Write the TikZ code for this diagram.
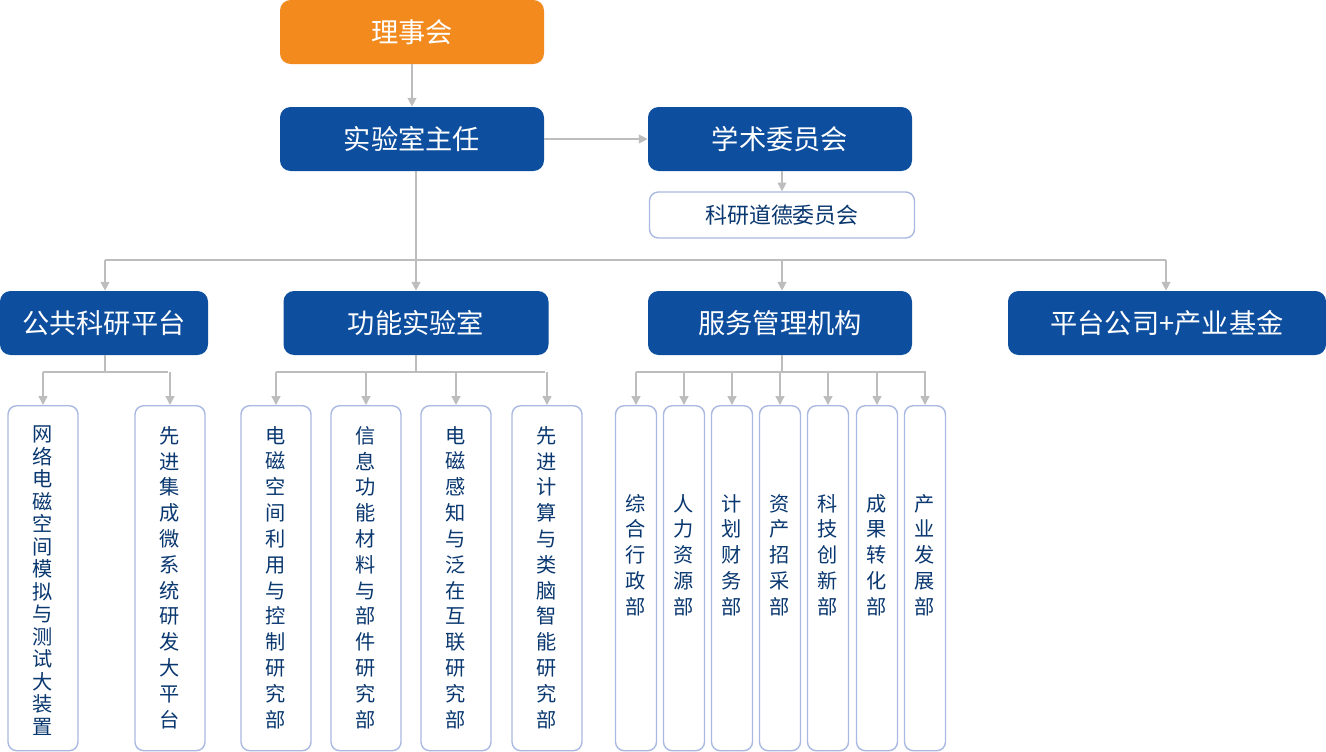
\documentclass[tikz,border=0pt]{standalone}
\usepackage{fontspec}
\setmainfont{Noto Sans CJK SC}
\usetikzlibrary{arrows.meta, positioning}
\definecolor{orgorange}{HTML}{F28A1E}
\definecolor{orgblue}{HTML}{0D4E9E}
\definecolor{orgedge}{HTML}{A9B9E2}
\definecolor{orgline}{HTML}{BDBDBD}
\tikzset{
    head/.style = {rounded corners = 6pt, minimum width = 264*0.02cm, minimum height = 64*0.02cm, text = white, font = \fontsize{15.5}{18}\selectfont},
    sub/.style = {draw = orgedge, thick, rounded corners = 5pt, minimum width = 265*0.02cm, minimum height = 46*0.02cm, fill = white, text = orgblue!70!black, font = \fontsize{12.5}{15}\selectfont},
    unit/.style = {draw = orgedge, thick, rounded corners = 5pt, minimum height = 345*0.02cm, fill = white, anchor = north, text = orgblue!70!black},
    vtext/.style = {align = center, font = \fontsize{11.5}{14.7}\selectfont, text = orgblue!70!black},
    link/.style = {draw = orgline, thick, -{Triangle[length = 5pt, width = 5pt]}},
    plain/.style = {draw = orgline, thick},
}

\begin{document}
\begin{tikzpicture}[x = 0.02cm, y = -0.02cm]
    \useasboundingbox (0, 0) rectangle (1326, 751);

    % top levels
    \node[head, fill = orgorange] (council) at (412, 32) {理事会};
    \node[head, fill = orgblue] (director) at (412, 139) {实验室主任};
    \node[head, fill = orgblue] (academic) at (780, 139) {学术委员会};
    \node[sub] (ethics) at (782, 215) {科研道德委员会};

    \draw[link] (council) -- (director);
    \draw[link] (director) -- (academic);
    \draw[link] (academic.south -| ethics) -- (ethics);

    % second level
    \node[head, fill = orgblue, minimum width = 208*0.02cm] (public) at (104, 323) {公共科研平台};
    \node[head, fill = orgblue, minimum width = 265*0.02cm] (lab) at (416, 323) {功能实验室};
    \node[head, fill = orgblue] (service) at (780, 323) {服务管理机构};
    \node[head, fill = orgblue, minimum width = 318*0.02cm] (company) at (1167, 323) {平台公司+产业基金};

    \coordinate (bus) at (416, 260);
    \draw[plain] (director.south -| bus) -- (bus);
    \draw[plain] (105, 260) -- (1166, 260);
    \foreach \x/\n in {105/public, 416/lab, 782/service, 1166/company}
        \draw[link] (\x, 260) -- (\n.north -| \x, 0);

    % public platforms
    \draw[plain] (public.south -| 105, 0) -- (105, 372);
    \draw[plain] (43, 372) -- (168, 372);
    \foreach \x/\t [count = \i] in {43/网\\络\\电\\磁\\空\\间\\模\\拟\\与\\测\\试\\大\\装\\置, 170/先\\进\\集\\成\\微\\系\\统\\研\\发\\大\\平\\台} {
        \node[unit, minimum width = 70*0.02cm] (pub\i) at (\x, 405) {};
        \draw[link] (\x, 372) -- (pub\i);
    }
    \node[vtext, anchor = north, font = \fontsize{11.5}{12.8}\selectfont] at ([yshift = -0.3cm] pub1.north) {网\\络\\电\\磁\\空\\间\\模\\拟\\与\\测\\试\\大\\装\\置};
    \node[vtext, anchor = north] at ([yshift = -0.3cm] pub2.north) {先\\进\\集\\成\\微\\系\\统\\研\\发\\大\\平\\台};

    % functional labs
    \draw[plain] (lab) -- (416, 372);
    \draw[plain] (276, 372) -- (545, 372);
    \foreach \x/\t [count = \i] in {276/电\\磁\\空\\间\\利\\用\\与\\控\\制\\研\\究\\部, 366/信\\息\\功\\能\\材\\料\\与\\部\\件\\研\\究\\部, 456/电\\磁\\感\\知\\与\\泛\\在\\互\\联\\研\\究\\部, 547/先\\进\\计\\算\\与\\类\\脑\\智\\能\\研\\究\\部} {
        \node[unit, minimum width = 70*0.02cm] (dept\i) at (\x, 405) {};
        \node[vtext, anchor = north] at ([yshift = -0.3cm] dept\i.north) {\t};
        \draw[link] (\x, 372) -- (dept\i);
    }

    % service offices
    \draw[plain] (service.south -| 782, 0) -- (782, 372);
    \draw[plain] (636, 372) -- (926, 372);
    \foreach \x/\t [count = \i] in {636/综\\合\\行\\政\\部, 684/人\\力\\资\\源\\部, 732/计\\划\\财\\务\\部, 780/资\\产\\招\\采\\部, 828/科\\技\\创\\新\\部, 877/成\\果\\转\\化\\部, 925/产\\业\\发\\展\\部} {
        \node[unit, minimum width = 41*0.02cm] (office\i) at (\x, 405) {};
        \node[vtext] at (\x, 555) {\t};
        \draw[link] (\x, 372) -- (office\i);
    }
\end{tikzpicture}
\end{document}
